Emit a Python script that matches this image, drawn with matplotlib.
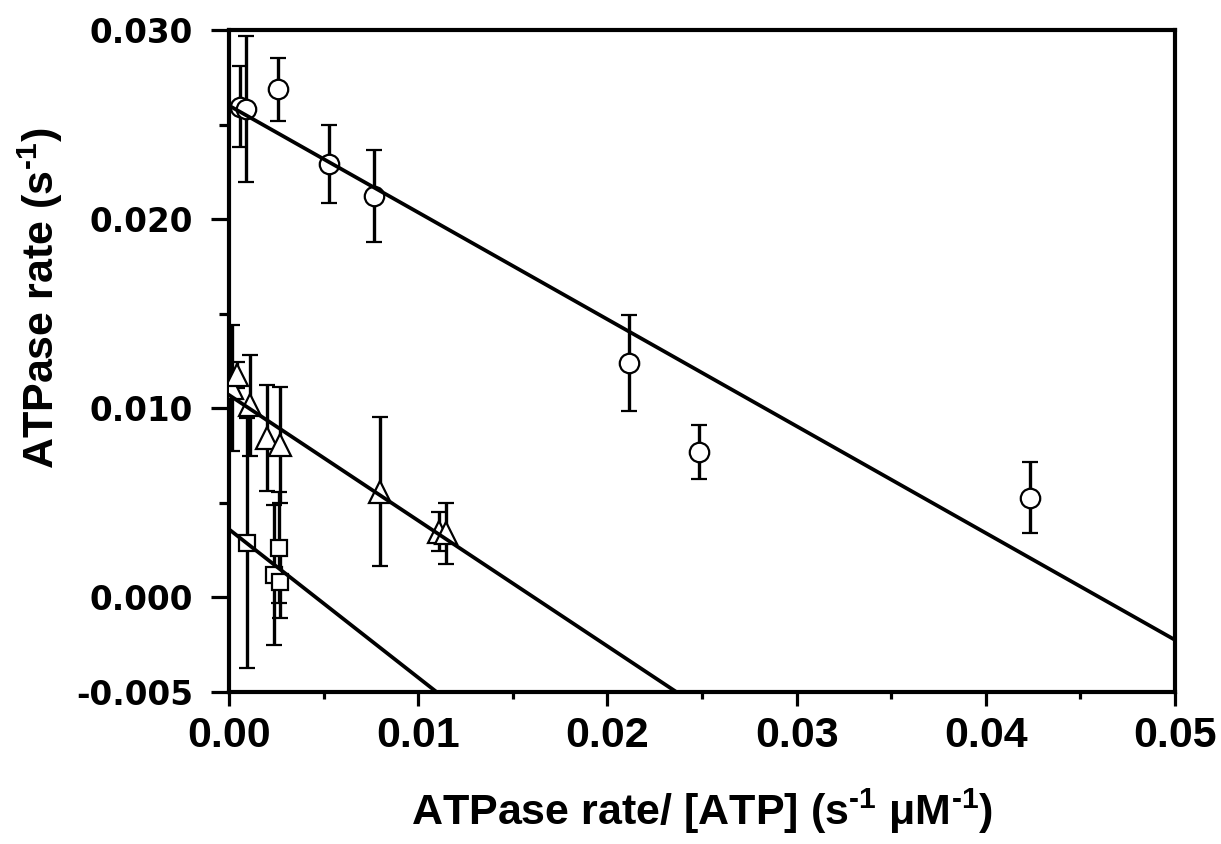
import numpy as np
import matplotlib
matplotlib.use('Agg')
import matplotlib.pyplot as plt

# circles
circ_x = [0.00058, 0.00092, 0.00257, 0.00529, 0.00765, 0.02115, 0.02484, 0.04235]
circ_y = [0.02593, 0.02582, 0.02686, 0.02291, 0.02122, 0.01239, 0.00769, 0.00526]
circ_err = [0.00214, 0.00388, 0.00165, 0.00205, 0.00243, 0.00254, 0.00145, 0.00188]

# triangles
tri_x = [0.00014, 0.00041, 0.00111, 0.00198, 0.00269, 0.00796, 0.01109, 0.01145]
tri_y = [0.01106, 0.01176, 0.01017, 0.00841, 0.00806, 0.00559, 0.00347, 0.00339]
tri_err = [0.00333, 0.00070, 0.00267, 0.00280, 0.00308, 0.00394, 0.00104, 0.00161]

# squares
sq_x = [0.00093, 0.00264, 0.00239, 0.00269]
sq_y = [0.00286, 0.00263, 0.00118, 0.00083]
sq_err = [0.00661, 0.00292, 0.00368, 0.00194]

# linear fits (intercept, slope)
circ_fit = (0.0260, -0.565)
tri_fit = (0.0107, -0.664)
sq_fit = (0.0036, -0.784)

x_ticks = [0.00, 0.01, 0.02, 0.03, 0.04, 0.05]
y_ticks = [-0.005, 0.000, 0.010, 0.020, 0.030]

plt.rcParams['mathtext.fontset'] = 'custom'
plt.rcParams['mathtext.rm'] = 'Liberation Sans:bold'
plt.rcParams['mathtext.default'] = 'rm'

fig = plt.figure(figsize=(12.21, 8.44), dpi=100)
ax = fig.add_axes([0.1876, 0.1801, 0.7748, 0.7844])

series = [
    (circ_x, circ_y, circ_err, 'o', 14),
    (tri_x, tri_y, tri_err, '^', 15.5),
    (sq_x, sq_y, sq_err, 's', 11),
]
for xs, ys, es, mk, ms in series:
    ax.errorbar(xs, ys, yerr=es, fmt=mk, ms=ms, mfc='white', mec='black', mew=1.6,
                ecolor='black', elinewidth=2.4, capsize=6, capthick=2.4, zorder=3)

xx = np.array([0.0, 0.05])
for a, b in [circ_fit, tri_fit, sq_fit]:
    ax.plot(xx, a + b * xx, color='black', lw=2.7, zorder=4)

ax.set_xlim(0, 0.05)
ax.set_ylim(-0.005, 0.030)
ax.set_xticks(x_ticks)
ax.set_xticks(np.arange(0.005, 0.05, 0.01), minor=True)
ax.set_xticklabels([f'{v:.2f}' for v in x_ticks], family='Liberation Sans',
                   fontweight='bold', fontsize=31)
ax.set_yticks(y_ticks)
ax.set_yticks([0.005, 0.015, 0.025], minor=True)
ax.set_yticklabels([f'{v:.3f}' for v in y_ticks], family='DejaVu Sans',
                   fontweight='bold', fontsize=23.5)

for s in ax.spines.values():
    s.set_linewidth(3)
ax.tick_params(axis='x', which='major', direction='out', length=10, width=2.3, pad=7)
ax.tick_params(axis='x', which='minor', direction='out', length=5, width=2.3)
ax.tick_params(axis='y', which='major', direction='out', length=13, width=2.3, pad=13)
ax.tick_params(axis='y', which='minor', direction='out', length=7, width=2.3)

ax.set_xlabel(r'ATPase rate/ [ATP] (s$^{\text{-1}}$ μM$^{\text{-1}}$)', family='Liberation Sans',
              fontweight='bold', fontsize=31)
ax.xaxis.set_label_coords(0.5, -0.18)
ax.xaxis.label.set_va('center')
ax.set_ylabel(r'ATPase rate (s$^{\text{-1}}$)', family='Liberation Sans',
              fontweight='bold', fontsize=31)
ax.yaxis.set_label_coords(-0.2, 0.594)
ax.yaxis.label.set_va('center')

fig.savefig('out.png', dpi=100)
